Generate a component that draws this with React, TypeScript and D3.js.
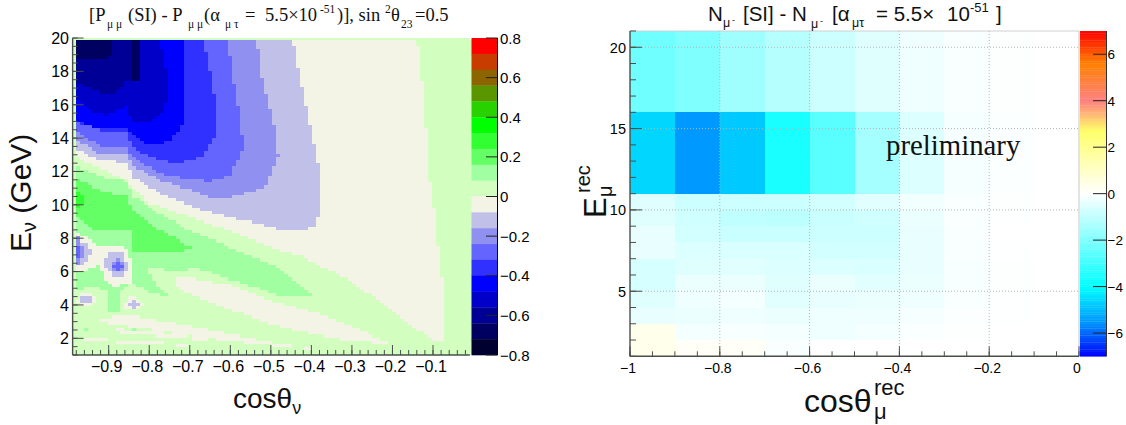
import React from 'react';
import * as d3 from 'd3';

type Pt = [number, number];

// ---- left panel: contour levels, top of the palette first
const levelColors = ['#ff0000', '#c83c00', '#8c6400', '#5a9600', '#28d200', '#00ff00', '#32ff32', '#64ff64', '#a0ffa0', '#d2ffc0',
  '#f3f3e6', '#c0c0e8', '#9090f0', '#6464ff', '#3030ff', '#0000ff', '#0000c8', '#000096', '#000060', '#000030'];
const levelIdx = { light: 9, mint: 8, green: 7, bright: 6, beige: 10, lav: 11, mid: 12, blue1: 13, blue2: 14, blue3: 15, blue4: 16, navy1: 17, navy2: 18 };

// regions as [cos theta, E]
const mintBand: Pt[] = [[-.981, 12.39], [-.922, 11.69], [-.852, 11.39], [-.843, 10.59], [-.78, 9.57], [-.708, 8.57], [-.593, 7.37], [-.478, 6.17], [-.398, 4.57], [-.478, 4.57], [-.593, 5.47], [-.675, 6.17], [-.741, 6.07], [-.806, 6.27], [-.78, 5.2], [-.745, 4.33], [-.806, 4.87], [-.843, 5.37], [-.872, 4.77], [-.872, 3.57], [-.901, 3.57], [-.901, 4.77], [-.93, 5.07], [-.981, 4.93]];
const mintStreak1: Pt[] = [[-.975, 2.65], [-.92, 2.25], [-.95, 2.55]];
const mintStreak2: Pt[] = [[-.845, 3.4], [-.81, 3.2], [-.84, 3.25]];
const mintStreak3: Pt[] = [[-.86, 2.6], [-.82, 2.6], [-.84, 2.48]];
const greenCore: Pt[] = [[-.981, 11.59], [-.922, 10.89], [-.852, 10.49], [-.843, 9.79], [-.806, 8.97], [-.696, 7.47], [-.72, 7.13], [-.843, 7.21], [-.843, 8.47], [-.938, 8.47], [-.971, 9.27], [-.981, 9.47]];
const brightSpot: Pt[] = [[-.981, 11.0], [-.96, 10.4], [-.955, 10.0], [-.981, 9.9]];

const beigeMain: Pt[] = [[-.981, 19.93], [-.14, 19.93], [-.131, 18.28], [-.12, 15.4], [-.11, 11.7], [-.101, 10.5], [-.091, 8.2], [-.081, 6.17], [-.071, 4.27], [-.071, 1.97], [-.099, 1.81], [-.206, 3.77], [-.313, 5.57], [-.428, 6.97], [-.478, 7.27], [-.593, 8.37], [-.732, 9.57], [-.798, 10.09], [-.843, 11.09], [-.856, 11.49], [-.922, 12.19], [-.981, 12.88]];
const beigeWedgeA: Pt[] = [[-.732, 5.57], [-.7, 5.6], [-.593, 5.17], [-.478, 4.07], [-.395, 3.57], [-.313, 2.87], [-.206, 1.68], [-.313, 1.88], [-.395, 2.27], [-.478, 2.68], [-.593, 3.67], [-.708, 4.77], [-.732, 5.07]];
const beigeWedgeB: Pt[] = [[-.922, 3.21], [-.839, 3.37], [-.675, 2.6], [-.478, 1.68], [-.38, 1.3], [-.478, 1.5], [-.675, 2.07], [-.922, 2.97]];
const beigeWedgeC: Pt[] = [[-.88, 2.55], [-.75, 2.3], [-.6, 1.75], [-.75, 2.05], [-.88, 2.35]];
const beigeWedgeD: Pt[] = [[-.96, 2.0], [-.8, 1.85], [-.68, 1.5], [-.8, 1.65], [-.96, 1.85]];
const beigeHaloA: Pt[] = [[-.981, 8.27], [-.946, 7.97], [-.926, 7.47], [-.88, 7.67], [-.848, 7.37], [-.843, 5.37], [-.88, 5.07], [-.905, 5.47], [-.922, 6.37], [-.946, 6.17], [-.981, 5.97]];
const beigeHaloB: Pt[] = [[-.973, 4.57], [-.955, 4.77], [-.926, 4.37], [-.938, 3.97], [-.967, 3.87], [-.977, 4.17]];
const beigeHaloC: Pt[] = [[-.862, 4.07], [-.843, 4.57], [-.811, 3.97], [-.843, 3.67], [-.858, 3.77]];

const lavenderLobe: Pt[] = [[-.981, 19.93], [-.447, 19.93], [-.377, 11.7], [-.377, 9.57], [-.391, 8.77], [-.436, 8.41], [-.478, 8.57], [-.654, 9.57], [-.774, 10.69], [-.843, 11.69], [-.852, 12.49], [-.922, 12.69], [-.981, 13.39]];
const midBlue: Pt[] = [[-.981, 19.93], [-.535, 19.93], [-.519, 17.28], [-.486, 14.28], [-.482, 12.89], [-.511, 11.09], [-.593, 10.49], [-.65, 10.49], [-.774, 11.49], [-.843, 12.39], [-.852, 13.09], [-.913, 12.99], [-.981, 13.88]];
const blue1Region: Pt[] = [[-.981, 19.93], [-.605, 19.93], [-.593, 17.48], [-.572, 14.68], [-.568, 13.29], [-.601, 11.79], [-.65, 11.39], [-.765, 11.79], [-.843, 12.89], [-.852, 13.48], [-.913, 13.48], [-.981, 14.38]];
const blue2Region: Pt[] = [[-.981, 19.93], [-.667, 19.93], [-.646, 17.48], [-.634, 15.88], [-.634, 14.28], [-.667, 12.89], [-.733, 12.49], [-.798, 12.89], [-.843, 13.48], [-.852, 14.38], [-.905, 14.38], [-.981, 14.98]];
const blue3Region: Pt[] = [[-.981, 19.93], [-.714, 19.93], [-.712, 15.08], [-.733, 14.28], [-.749, 13.78], [-.798, 13.58], [-.843, 14.28], [-.852, 14.68], [-.922, 14.48], [-.981, 15.08]];
const blue4Region: Pt[] = [[-.981, 19.93], [-.774, 19.93], [-.761, 18.68], [-.753, 17.48], [-.753, 16.48], [-.765, 15.48], [-.806, 14.88], [-.843, 14.98], [-.852, 15.88], [-.905, 15.38], [-.946, 15.68], [-.981, 16.38]];
const navy1Region: Pt[] = [[-.981, 19.93], [-.823, 19.93], [-.823, 17.38], [-.852, 17.48], [-.872, 16.88], [-.897, 16.58], [-.981, 17.28]];
const navy2Region: Pt[] = [[-.981, 19.93], [-.893, 19.93], [-.897, 18.68], [-.981, 18.78]];
const navy2Stripe: Pt[] = [[-.843, 19.93], [-.823, 19.93], [-.823, 17.38], [-.843, 17.38]];

const islandLavA: Pt[] = [[-.981, 7.87], [-.953, 7.77], [-.942, 7.17], [-.954, 6.57], [-.981, 6.31]];
const islandMidA: Pt[] = [[-.981, 8.17], [-.971, 8.07], [-.963, 7.47], [-.964, 6.77], [-.975, 6.37], [-.981, 6.31]];
const islandCoreA: Pt[] = [[-.981, 7.47], [-.971, 7.47], [-.967, 7.07], [-.971, 6.77], [-.981, 6.67]];
const islandLavB: Pt[] = [[-.913, 6.57], [-.893, 7.21], [-.864, 7.07], [-.852, 6.37], [-.862, 5.67], [-.885, 5.67], [-.903, 6.17]];
const islandMidB: Pt[] = [[-.893, 6.47], [-.878, 6.81], [-.862, 6.47], [-.862, 6.07], [-.88, 5.91], [-.893, 6.17]];
const islandCoreB: Pt[] = [[-.889, 6.41], [-.878, 6.67], [-.866, 6.41], [-.866, 6.13], [-.885, 6.07]];
const islandLavC: Pt[] = [[-.971, 4.33], [-.956, 4.61], [-.931, 4.33], [-.946, 4.05], [-.967, 4.07]];
const islandLavD: Pt[] = [[-.853, 4.13], [-.839, 4.33], [-.813, 3.97], [-.839, 3.81], [-.849, 3.93]];

// painted in order, last one wins
const contourLayers: [number, Pt[]][] = [
  [levelIdx.mint, mintBand], [levelIdx.mint, mintStreak1], [levelIdx.mint, mintStreak2], [levelIdx.mint, mintStreak3],
  [levelIdx.green, greenCore], [levelIdx.bright, brightSpot],
  [levelIdx.beige, beigeMain], [levelIdx.beige, beigeWedgeA], [levelIdx.beige, beigeWedgeB], [levelIdx.beige, beigeWedgeC], [levelIdx.beige, beigeWedgeD],
  [levelIdx.beige, beigeHaloA], [levelIdx.beige, beigeHaloB], [levelIdx.beige, beigeHaloC],
  [levelIdx.lav, lavenderLobe], [levelIdx.mid, midBlue], [levelIdx.blue1, blue1Region], [levelIdx.blue2, blue2Region], [levelIdx.blue3, blue3Region],
  [levelIdx.blue4, blue4Region], [levelIdx.navy1, navy1Region], [levelIdx.navy2, navy2Region], [levelIdx.navy2, navy2Stripe],
  [levelIdx.lav, islandLavA], [levelIdx.mid, islandMidA], [levelIdx.blue1, islandCoreA],
  [levelIdx.lav, islandLavB], [levelIdx.mid, islandMidB], [levelIdx.blue1, islandCoreB],
  [levelIdx.lav, islandLavC], [levelIdx.lav, islandLavD],
];

// ---- right panel: event difference per bin
const recCosEdges = d3.range(0, 11).map((i) => -1 + i * 0.1);
const recEEdges = [1, 2, 3, 4, 5, 6, 7, 8, 9, 10, 11, 16, 21];
// rows from the lowest energy bin up
const eventDiff = [
  [.35, .12, .15, -.1, 0, 0, 0, 0, 0, 0],
  [.35, -.18, -.12, -.18, -.25, -.18, -.08, -.03, 0, 0],
  [-.35, -.3, -.25, -.3, -.25, -.25, -.15, -.05, -.02, 0],
  [-.5, -.25, -.18, -.45, -.35, -.3, -.25, -.1, -.02, 0],
  [-.65, -.3, -.3, -.5, -.3, -.45, -.3, -.12, -.03, 0],
  [-.65, -.5, -.45, -.55, -.55, -.6, -.35, -.12, -.03, 0],
  [-.35, -.55, -.6, -.6, -.7, -.7, -.35, -.1, -.02, 0],
  [-.35, -.7, -.85, -.85, -.8, -.8, -.35, -.1, 0, 0],
  [-.5, -.75, -1, -1.05, -.85, -.75, -.3, -.08, -.02, 0],
  [-.5, -.8, -.8, -.8, -.7, -.45, -.2, -.08, -.03, 0],
  [-4.6, -5.5, -4.8, -3.6, -2.6, -1.4, -.55, -.15, -.05, 0],
  [-2.24, -2, -1.5, -1.15, -.8, -.5, -.25, -.1, -.03, 0],
];
const paletteStops = [-7, -5.5, -4, 0, 2.7, 4, 5.6, 7];
const paletteColors = ['#0000ff', '#0099ff', '#00ffff', '#ffffff', '#ffff66', '#ff8080', '#ff8000', '#ff0000'];

const leftCosTicks = [-.9, -.8, -.7, -.6, -.5, -.4, -.3, -.2, -.1];
const leftETicks = [2, 4, 6, 8, 10, 12, 14, 16, 18, 20];
const leftBarTicks = [.8, .6, .4, .2, 0, -.2, -.4, -.6, -.8];
const rightCosTicks = [-1, -.8, -.6, -.4, -.2, 0];
const rightETicks = [5, 10, 15, 20];
const rightBarTicks = [6, 4, 2, 0, -2, -4, -6];

const sans = 'Liberation Sans, Arial, sans-serif';
const serif = 'Liberation Serif, Times New Roman, serif';
const axisCol = '#4a4f4a';
const fmt = (v: number) => String(v).replace('-', '\u2212').replace(/^(\u2212?)\./, '$10.');

// scales
const xL = d3.scaleLinear().domain([-.9, -.1]).range([108.7, 433]);
const yL = d3.scaleLinear().domain([1, 20]).range([355, 38]);
const barL = d3.scaleLinear().domain([-.8, .8]).range([355, 38]);
const xR = d3.scaleLinear().domain([-1, 0]).range([630, 1079]);
const yR = d3.scaleLinear().domain([1, 21]).range([356.3, 31]);
const barR = d3.scaleLinear().domain([-7, 7]).range([356.3, 31]);
const paletteScale = d3.scaleLinear<string>().domain(paletteStops).range(paletteColors).interpolate(d3.interpolateRgb);

// the original is a 100x100 histogram, so regions are sampled on that grid
const cosBinW = 0.00985;
const eBinH = 0.19;
const cosBins = d3.range(100).map((i) => -0.9895 + i * cosBinW);
const eBins = d3.range(100).map((i) => 0.9 + i * eBinH);

function contourRuns() {
  const runs: { x0: number; x1: number; e0: number; e1: number; level: number }[] = [];
  eBins.forEach((e) => {
    let start = 0;
    let prev = -1;
    cosBins.forEach((c, i) => {
      let level = levelIdx.light;
      contourLayers.forEach(([lv, poly]) => {
        if (d3.polygonContains(poly, [c + cosBinW / 2, e + eBinH / 2])) level = lv;
      });
      if (level !== prev) {
        if (prev >= 0) runs.push({ x0: cosBins[start], x1: c, e0: e, e1: e + eBinH, level: prev });
        start = i;
        prev = level;
      }
    });
    runs.push({ x0: cosBins[start], x1: cosBins[99] + cosBinW, e0: e, e1: e + eBinH, level: prev });
  });
  return runs;
}

// title pieces placed one by one, the ROOT latex spacing is uneven
const Piece = ({ x, y, size, children }: any) => <tspan x={x} y={y} fontSize={size}>{children}</tspan>;

function LeftPanel() {
  const runs = contourRuns();
  const minorX = d3.range(0, 49).map((i) => -.98 + i * .02);
  const minorY = d3.range(0, 39).map((i) => 1 + i * .5);
  const [x0, x1] = [xL(-.989), xL(-.009)];
  return (
    <g>
      <rect x={x0} y={yL(20)} width={x1 - x0} height={yL(1) - yL(20)} fill={levelColors[levelIdx.light]} />
      <g shapeRendering="crispEdges">
        {runs.map((r, i) => (
          <rect key={i} x={xL(r.x0)} width={xL(r.x1) - xL(r.x0)} y={yL(r.e1)} height={yL(Math.max(r.e0, 1)) - yL(r.e1)} fill={levelColors[r.level]} />
        ))}
      </g>
      {/* axes */}
      <line x1={x0} x2={x1} y1={yL(1)} y2={yL(1)} stroke={axisCol} strokeWidth={1.4} />
      <line x1={x0} x2={x0} y1={yL(1)} y2={yL(20)} stroke={axisCol} strokeWidth={1.4} />
      {minorX.map((v) => <line key={v} x1={xL(v)} x2={xL(v)} y1={yL(1)} y2={yL(1) - 5} stroke={axisCol} />)}
      {leftCosTicks.map((v) => <line key={v} x1={xL(v)} x2={xL(v)} y1={yL(1)} y2={yL(1) - 10} stroke={axisCol} />)}
      {minorY.map((v) => <line key={v} x1={x0} x2={x0 + 5} y1={yL(v)} y2={yL(v)} stroke={axisCol} />)}
      {leftETicks.map((v) => <line key={v} x1={x0} x2={x0 + 11} y1={yL(v)} y2={yL(v)} stroke={axisCol} />)}
      {leftCosTicks.map((v) => (
        <text key={v} x={xL(v) - 2} y={372} textAnchor="middle" fontFamily={sans} fontSize={16}>{fmt(v)}</text>
      ))}
      {leftETicks.map((v) => (
        <text key={v} x={69} y={yL(v) + 5.8} textAnchor="end" fontFamily={sans} fontSize={16}>{v}</text>
      ))}
      {/* colour bar */}
      {levelColors.map((c, i) => (
        <rect key={c} x={471.5} width={26} y={38 + i * (317 / 20)} height={317 / 20 + .3} fill={c} />
      ))}
      <line x1={497.5} x2={497.5} y1={38} y2={355} stroke="#000" />
      {leftBarTicks.map((v) => (
        <g key={v}>
          <line x1={486} x2={497.5} y1={barL(v)} y2={barL(v)} stroke="#222" />
          <text x={500} y={barL(v) + 5.5} fontFamily={sans} fontSize={15}>{fmt(v)}</text>
        </g>
      ))}
      {/* titles */}
      <text fontFamily={serif} fill="#111">
        <Piece x={89} y={21} size={18.5}>[P</Piece>
        <Piece x={107} y={28} size={11.5}>μ μ</Piece>
        <Piece x={128} y={21} size={18.5}>(SI) - P</Piece>
        <Piece x={188} y={28} size={11.5}>μ μ</Piece>
        <Piece x={204} y={21} size={18.5}>(α</Piece>
        <Piece x={225} y={28} size={11.5}>μ τ</Piece>
        <Piece x={245} y={21} size={18.5}>=</Piece>
        <Piece x={265} y={21} size={18.5}>5.5×10</Piece>
        <Piece x={320} y={13} size={11.5}>-51</Piece>
        <Piece x={337} y={21} size={18.5}>)], sin</Piece>
        <Piece x={385} y={13} size={11.5}>2</Piece>
        <Piece x={391} y={21} size={18.5}>θ</Piece>
        <Piece x={401} y={28} size={11.5}>23</Piece>
        <Piece x={415} y={21} size={18.5}>=0.5</Piece>
      </text>
      <text x={233} y={408} fontFamily={sans} fontSize={28} fill="#111">cosθ<tspan fontSize={18} dy={6}>ν</tspan></text>
      <text transform="translate(31,252) rotate(-90)" fontFamily={sans} fontSize={30} fill="#111">
        E<tspan fontSize={20} dy={5}>ν</tspan><tspan dy={-5}> (GeV)</tspan>
      </text>
    </g>
  );
}

function RightPanel() {
  const minorX = d3.range(0, 21).map((i) => -1 + i * .05);
  const minorY = d3.range(1, 22);
  const barCells = d3.range(0, 140).map((i) => -7 + i * .1);
  return (
    <g>
      <g shapeRendering="crispEdges">
        {eventDiff.map((row, r) => row.map((v, c) => (
          <rect key={`${r}-${c}`} x={xR(recCosEdges[c])} width={xR(recCosEdges[c + 1]) - xR(recCosEdges[c])}
            y={yR(recEEdges[r + 1])} height={yR(recEEdges[r]) - yR(recEEdges[r + 1])} fill={paletteScale(v)} />
        )))}
      </g>
      {/* grid and frame */}
      {rightCosTicks.slice(1, 5).map((v) => <line key={v} x1={xR(v)} x2={xR(v)} y1={yR(21)} y2={yR(1)} stroke="#b4b4b4" strokeDasharray="1 2" />)}
      {rightETicks.map((v) => <line key={v} x1={xR(-1)} x2={xR(0)} y1={yR(v)} y2={yR(v)} stroke="#b4b4b4" strokeDasharray="1 2" />)}
      <line x1={xR(-1)} x2={xR(0)} y1={yR(21)} y2={yR(21)} stroke="#d0d0d0" />
      <line x1={xR(0)} x2={xR(0)} y1={yR(21)} y2={yR(1)} stroke="#c8c8c8" />
      <line x1={xR(-1)} x2={xR(0)} y1={yR(1)} y2={yR(1)} stroke={axisCol} strokeWidth={1.4} />
      <line x1={xR(-1)} x2={xR(-1)} y1={yR(1)} y2={yR(21)} stroke={axisCol} strokeWidth={1.4} />
      {minorX.map((v) => <line key={v} x1={xR(v)} x2={xR(v)} y1={yR(1)} y2={yR(1) - 5} stroke={axisCol} />)}
      {rightCosTicks.map((v) => <line key={v} x1={xR(v)} x2={xR(v)} y1={yR(1)} y2={yR(1) - 10} stroke={axisCol} />)}
      {minorY.map((v) => <line key={v} x1={xR(-1)} x2={xR(-1) + 6} y1={yR(v)} y2={yR(v)} stroke={axisCol} />)}
      {rightETicks.map((v) => <line key={v} x1={xR(-1)} x2={xR(-1) + 12} y1={yR(v)} y2={yR(v)} stroke={axisCol} />)}
      {rightCosTicks.map((v) => (
        <text key={v} x={xR(v) - 2} y={372.5} textAnchor="middle" fontFamily={sans} fontSize={14}>{fmt(v)}</text>
      ))}
      {rightETicks.map((v) => (
        <text key={v} x={626} y={yR(v) + 5.5} textAnchor="end" fontFamily={sans} fontSize={14.5}>{v}</text>
      ))}
      {/* colour bar */}
      {barCells.map((v) => (
        <rect key={v} x={1080} width={26.5} y={barR(v + .1)} height={barR(v) - barR(v + .1) + .3} fill={paletteScale(v + .05)} />
      ))}
      <line x1={1106.5} x2={1106.5} y1={31} y2={356.3} stroke="#333" />
      {rightBarTicks.map((v) => (
        <g key={v}>
          <line x1={1093} x2={1106.5} y1={barR(v)} y2={barR(v)} stroke="#222" />
          <text x={1107.5} y={barR(v) + 5} fontFamily={sans} fontSize={13.5}>{fmt(v)}</text>
        </g>
      ))}
      {/* titles */}
      <text fontFamily={sans} fill="#111">
        <Piece x={708} y={21} size={20.5}>N</Piece>
        <Piece x={723} y={27} size={12.5}>μ</Piece>
        <Piece x={732} y={23} size={9}>-</Piece>
        <Piece x={743} y={21} size={20.5}>[SI] - N</Piece>
        <Piece x={811} y={28} size={12.5}>μ</Piece>
        <Piece x={820} y={24} size={9}>-</Piece>
        <Piece x={832} y={21} size={20.5}>[α</Piece>
        <Piece x={852} y={27} size={12.5}>μτ</Piece>
        <Piece x={876} y={21} size={20.5}>= 5.5×</Piece>
        <Piece x={947} y={21} size={20.5}>10</Piece>
        <Piece x={970} y={12} size={13}>-51</Piece>
        <Piece x={996} y={21} size={20.5}>]</Piece>
      </text>
      <text x={886} y={155} fontFamily={serif} fontSize={28.8} fill="#111">preliminary</text>
      <text x={804} y={412} fontFamily={sans} fontSize={32} fill="#111">cosθ</text>
      <text x={874} y={395} fontFamily={sans} fontSize={22} fill="#111">rec</text>
      <text x={874} y={419} fontFamily={sans} fontSize={22} fill="#111">μ</text>
      <text transform="translate(606,218) rotate(-90)" fontFamily={sans} fontSize={31} fill="#111">E</text>
      <text transform="translate(590,193) rotate(-90)" fontFamily={sans} fontSize={20} fill="#111">rec</text>
      <text transform="translate(612,197) rotate(-90)" fontFamily={sans} fontSize={20} fill="#111">μ</text>
    </g>
  );
}

export default function App() {
  return (
    <svg width={1126} height={425} style={{ position: 'absolute', left: 0, top: 0, display: 'block', background: '#fff' }}>
      <LeftPanel />
      <RightPanel />
    </svg>
  );
}
